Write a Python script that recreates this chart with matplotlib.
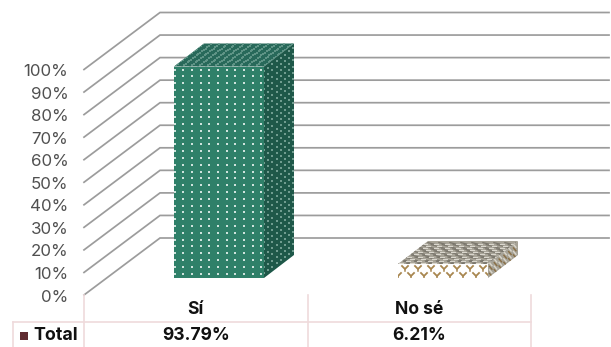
import numpy as np
import matplotlib
matplotlib.use("Agg")
import matplotlib.pyplot as plt
from matplotlib.patches import Polygon, Rectangle

categories = ["Sí", "No sé"]
values = [93.79, 6.21]
value_labels = ["93.79%", "6.21%"]
ticks = [0, 10, 20, 30, 40, 50, 60, 70, 80, 90, 100]
series_name = "Total"

plt.rcParams["font.family"] = ["Inter", "DejaVu Sans"]
W, H = 611, 347
fig = plt.figure(figsize=(W / 100, H / 100), dpi=100, facecolor="white")
ax = fig.add_axes([0, 0, 1, 1])
ax.set_xlim(0, W)
ax.set_ylim(H, 0)
ax.axis("off")

# faux-3D layout, in pixels
X0, Y0, PER = 84, 295, 2.255
DX, DY = 76, -57
XEND = 609
GRID = "#9C9C9C"
PINK = "#EFDADC"
TEXT = "#505050"

def vy(v):
    return Y0 - PER * v

for t in ticks:
    y = vy(t)
    ax.plot([X0, X0 + DX, XEND], [y, y + DY, y + DY], color=GRID, lw=1.25, zorder=1,
            solid_joinstyle="miter")
    ax.text(68.5, y + 2, f"{t}%", ha="right", va="center", fontsize=12.2,
            color=TEXT, zorder=2)

BAR_W, BDX, BDY, BASE = 90, 30, -23, 278
lefts = [174, 398]

def faces(x, v):
    top = BASE - PER * v
    r = x + BAR_W
    front = [(x, BASE), (r, BASE), (r, top), (x, top)]
    side = [(r, BASE), (r + BDX, BASE + BDY), (r + BDX, top + BDY), (r, top)]
    lid = [(x, top), (r, top), (r + BDX, top + BDY), (x + BDX, top + BDY)]
    return front, side, lid, top, r

def texture(poly, pts, **kw):
    p = Polygon(poly, closed=True, fc="none", ec="none", zorder=3)
    ax.add_patch(p)
    s = ax.scatter(pts[:, 0], pts[:, 1], zorder=4, linewidths=0, **kw)
    s.set_clip_path(p)

# first bar: dotted green
front, side, lid, top, r = faces(lefts[0], values[0])
x = lefts[0]
ax.add_patch(Polygon(front, fc="#2F8069", ec="none", zorder=3))
ax.add_patch(Polygon(side, fc="#1E5849", ec="none", zorder=3))
ax.add_patch(Polygon(lid, fc="#28695A", ec="none", zorder=3))
cols = np.arange(x + 0.5, r, 8.7)
rows = np.arange(top + 3, BASE, 6.8)
for i, yy in enumerate(rows):
    pts = np.column_stack([cols, np.full_like(cols, yy)])
    texture(front, pts, s=2.6 if i % 2 else 1.1, marker="s", c="#CFE3DD")
u, w = np.meshgrid(np.arange(0, 1, 0.14), np.arange(0.02, 1, 0.029))
pts = np.column_stack([(r + BDX * u).ravel(), (top + BDY * u + (BASE - top) * w).ravel()])
texture(side, pts, s=0.6, marker="s", c="#6F9C8F")
u, w = np.meshgrid(np.arange(0, 1, 0.09), np.arange(0, 1, 0.06))
pts = np.column_stack([(x + BAR_W * u + BDX * w).ravel(), (top + BDY * w).ravel()])
texture(lid, pts, s=0.6, marker="s", c="#5F9486")

# second bar: brown woven pattern
front, side, lid, top, r = faces(lefts[1], values[1])
x = lefts[1]
ax.add_patch(Polygon(front, fc="white", ec="none", zorder=3))
ax.add_patch(Polygon(side, fc="#A6A296", ec="none", zorder=3))
ax.add_patch(Polygon(lid, fc="#A8A498", ec="none", zorder=3))
clip_f = Polygon(front, fc="none", ec="none", zorder=3)
ax.add_patch(clip_f)
for k, yy in enumerate(np.arange(top + 2, BASE, 7.0)):
    for c0 in np.arange(x - 9 + 6 * (k % 2), r + 7, 13.0):
        ln, = ax.plot([c0, c0 + 3, c0 + 6], [yy, yy + 3, yy], color="#A8864F", lw=1.3, zorder=4)
        ln.set_clip_path(clip_f)
        ln, = ax.plot([c0 + 3, c0 + 3], [yy + 3, yy + 5], color="#A8864F", lw=1.1, zorder=4)
        ln.set_clip_path(clip_f)
clip_l = Polygon(lid, fc="none", ec="none", zorder=3)
ax.add_patch(clip_l)
for k, f in enumerate(np.arange(0.03, 1, 0.09)):
    yy = top + BDY * f
    for c0 in np.arange(x - 14 + 5 * (k % 3), r + 40, 11):
        ln, = ax.plot([c0 + BDX * f, c0 + 6 + BDX * f], [yy, yy + 1.5], color="#7A766C", lw=0.9, zorder=4)
        ln.set_clip_path(clip_l)
        ln, = ax.plot([c0 + 6 + BDX * f, c0 + 10 + BDX * f], [yy + 1.5, yy + 1.5], color="#DAD7CE", lw=0.8, zorder=4)
        ln.set_clip_path(clip_l)
clip_s = Polygon(side, fc="none", ec="none", zorder=3)
ax.add_patch(clip_s)
for f in np.arange(0.05, 1, 0.16):
    for j, g in enumerate(np.arange(0, 1, 0.25)):
        ln, = ax.plot([r + BDX * f, r + BDX * (f + 0.08)],
                      [top + BDY * f + (BASE - top) * g, top + BDY * f + (BASE - top) * (g + 0.2)],
                      color="#8A6F45" if j % 2 else "#DAD6CB", lw=1.0, zorder=4)
        ln.set_clip_path(clip_s)

# data table
TX = [84, 307.5, 531]
for xx in TX:
    ax.plot([xx, xx], [295, 347], color=PINK, lw=1.2, zorder=2)
ax.plot([13, 531], [322, 322], color=PINK, lw=1.2, zorder=2)
ax.plot([13, 13], [322, 347], color=PINK, lw=1.2, zorder=2)
ax.add_patch(Rectangle((19.5, 331.5), 8.5, 8.5, fc="#5F2B30", ec="none", zorder=3))
ax.text(33, 335, series_name, ha="left", va="center", fontsize=12.8, fontweight="bold", color="#111111")
for i, (c, lab) in enumerate(zip(categories, value_labels)):
    cx = (TX[i] + TX[i + 1]) / 2
    ax.text(cx, 310, c, ha="center", va="center", fontsize=12.6, fontweight="bold", color="#111111")
    ax.text(cx, 335.5, lab, ha="center", va="center", fontsize=12.6, fontweight="bold", color="#111111")

fig.savefig("out.png", dpi=100)
